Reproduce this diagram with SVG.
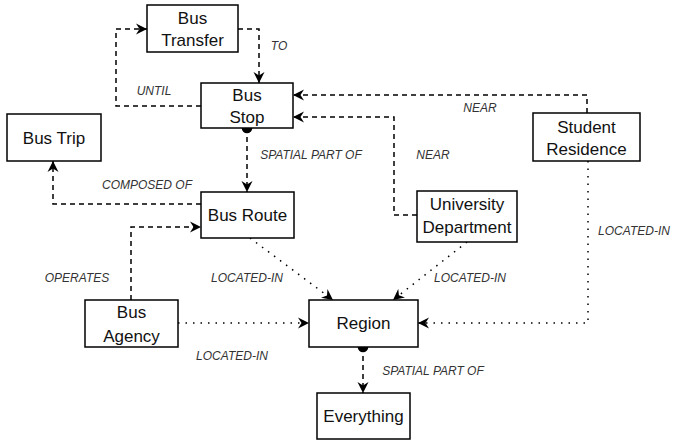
<svg xmlns="http://www.w3.org/2000/svg" width="674" height="440" viewBox="0 0 674 440">
<style>
.box{fill:#fff;stroke:#000;stroke-width:1.5}
.nt{font-family:"Liberation Sans",Arial,sans-serif;font-size:17px;fill:#111;text-anchor:middle}
.lb{font-family:"Liberation Sans",Arial,sans-serif;font-size:12px;font-style:italic;fill:#333;text-anchor:middle}
.dash{fill:none;stroke:#000;stroke-width:1.5;stroke-dasharray:5 4}
.dot{fill:none;stroke:#000;stroke-width:1.5;stroke-dasharray:1.5 6}
</style>
<defs>
<marker id="arr" markerUnits="userSpaceOnUse" markerWidth="12" markerHeight="12" refX="11" refY="6" orient="auto" viewBox="0 0 12 12">
<path d="M0,0.5 L11,6 L0,11.5 L3.5,6 Z" fill="#000"/>
</marker>
<marker id="dotm" markerUnits="userSpaceOnUse" markerWidth="12" markerHeight="12" refX="6" refY="6" orient="auto" viewBox="0 0 12 12">
<circle cx="6" cy="6" r="5.3" fill="#000"/>
</marker>
</defs>
<g id="connectors">
<path class="dash" d="M201,106 L116,106 L116,29 L147,29" marker-end="url(#arr)"/>
<path class="dash" d="M238,29 L259,29 L259,83" marker-end="url(#arr)"/>
<path class="dash" d="M587,113 L587,95 L293,95" marker-end="url(#arr)"/>
<path class="dash" d="M417,215 L394,215 L394,117 L293,117" marker-end="url(#arr)"/>
<path class="dash" d="M247,128 L247,192" marker-start="url(#dotm)" marker-end="url(#arr)"/>
<path class="dash" d="M201,204 L53,204 L53,161" marker-end="url(#arr)"/>
<path class="dash" d="M131,300 L131,227 L201,227" marker-end="url(#arr)"/>
<path class="dot" d="M250,238 L333,300" marker-end="url(#arr)"/>
<path class="dot" d="M467,242 L393,300" marker-end="url(#arr)"/>
<path class="dot" d="M588,161 L588,323 L418,323" marker-end="url(#arr)"/>
<path class="dot" d="M178,323 L309,323" marker-end="url(#arr)"/>
<path class="dash" d="M363,347 L363,393" marker-start="url(#dotm)" marker-end="url(#arr)"/>
<text class="lb" x="154" y="95">UNTIL</text>
<text class="lb" x="279" y="50">TO</text>
<text class="lb" x="480" y="112">NEAR</text>
<text class="lb" x="433" y="159">NEAR</text>
<text class="lb" x="311" y="159">SPATIAL PART OF</text>
<text class="lb" x="147" y="189">COMPOSED OF</text>
<text class="lb" x="77" y="282">OPERATES</text>
<text class="lb" x="247" y="282">LOCATED-IN</text>
<text class="lb" x="470" y="282">LOCATED-IN</text>
<text class="lb" x="634" y="235">LOCATED-IN</text>
<text class="lb" x="232" y="360">LOCATED-IN</text>
<text class="lb" x="433" y="375">SPATIAL PART OF</text>
</g>
<g id="bus-transfer">
<rect class="box" x="147" y="5" width="91" height="47"/>
<text class="nt" x="192.5" y="24">Bus</text>
<text class="nt" x="192.5" y="46">Transfer</text>
</g>
<g id="bus-stop">
<rect class="box" x="201" y="83" width="92" height="45"/>
<text class="nt" x="247" y="101">Bus</text>
<text class="nt" x="247" y="123">Stop</text>
</g>
<g id="bus-trip">
<rect class="box" x="7" y="114" width="94" height="47"/>
<text class="nt" x="54" y="143.5">Bus Trip</text>
</g>
<g id="bus-route">
<rect class="box" x="201" y="192" width="93" height="46"/>
<text class="nt" x="247.5" y="221">Bus Route</text>
</g>
<g id="student-residence">
<rect class="box" x="533" y="113" width="107" height="48"/>
<text class="nt" x="586.5" y="132.5">Student</text>
<text class="nt" x="586.5" y="155">Residence</text>
</g>
<g id="university-department">
<rect class="box" x="417" y="191" width="100" height="51"/>
<text class="nt" x="467" y="210">University</text>
<text class="nt" x="467" y="232.5">Department</text>
</g>
<g id="bus-agency">
<rect class="box" x="85" y="300" width="93" height="47"/>
<text class="nt" x="131.5" y="317.5">Bus</text>
<text class="nt" x="131.5" y="341.5">Agency</text>
</g>
<g id="region">
<rect class="box" x="309" y="300" width="109" height="47"/>
<text class="nt" x="363.5" y="328.5">Region</text>
</g>
<g id="everything">
<rect class="box" x="317" y="393" width="93" height="46"/>
<text class="nt" x="363.5" y="422">Everything</text>
</g>
</svg>
